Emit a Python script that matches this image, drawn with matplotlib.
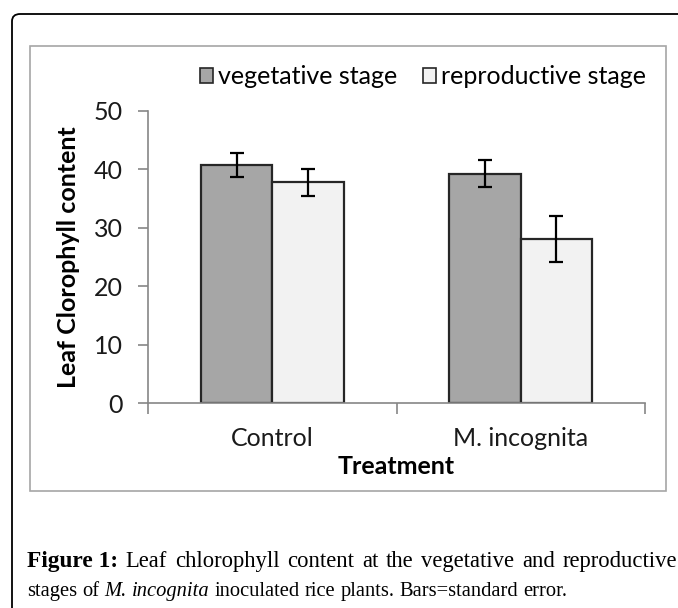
import matplotlib
matplotlib.use("Agg")
import matplotlib.pyplot as plt
from matplotlib.patches import Rectangle, FancyBboxPatch, Patch
import numpy as np

categories = ["Control", "M. incognita"]
series_names = ["vegetative stage", "reproductive stage"]
vegetative = [40.7, 39.2]
vegetative_err = [2.1, 2.3]
reproductive = [37.8, 28.1]
reproductive_err = [2.3, 3.9]
y_ticks = [0, 10, 20, 30, 40, 50]

W, H = 678, 608
fig = plt.figure(figsize=(W / 100, H / 100), dpi=100)
plt.rcParams['font.family'] = ['Lato', 'DejaVu Sans']
FS = 18

# outer rounded frame
outer = FancyBboxPatch((12 / W, -0.05), 1.2, 1 - 14 / H + 0.05,
                       boxstyle="round,pad=0,rounding_size=0.012",
                       transform=fig.transFigure, fill=False, edgecolor="black",
                       linewidth=1.3, clip_on=False)
fig.patches.append(outer)
# inner chart frame
inner = Rectangle((30 / W, 1 - 491 / H), (666 - 30) / W, (491 - 46) / H,
                  transform=fig.transFigure, fill=False, edgecolor="#a6a6a6",
                  linewidth=1.2)
fig.patches.append(inner)

ax = fig.add_axes([148 / W, 1 - 403.3 / H, (645 - 148) / W, (403.3 - 110.7) / H])
x = np.arange(len(categories))
bw = 0.287
ekw = dict(ecolor="black", elinewidth=1.6, capsize=5, capthick=1.6)
ax.bar(x - bw / 2, vegetative, bw, yerr=vegetative_err, color="#a6a6a6",
       edgecolor="#262626", linewidth=1.6, error_kw=ekw, label=series_names[0], zorder=2)
ax.bar(x + bw / 2, reproductive, bw, yerr=reproductive_err, color="#f2f2f2",
       edgecolor="#262626", linewidth=1.6, error_kw=ekw, label=series_names[1], zorder=2)

ax.set_xlim(-0.5, 1.5)
ax.set_ylim(0, 50)
for s in ["top", "right"]:
    ax.spines[s].set_visible(False)
for s in ["left", "bottom"]:
    ax.spines[s].set_color("#868686")
    ax.spines[s].set_linewidth(1.2)
ax.set_yticks(y_ticks)
ax.set_yticklabels([str(v) for v in y_ticks])
ax.tick_params(axis="y", direction="out", length=7, width=1.2, color="#868686",
               labelsize=FS, pad=11, labelcolor="#1a1a1a")
ax.set_xticks(x)
ax.set_xticklabels(categories)
ax.tick_params(axis="x", length=0, labelsize=FS, pad=17, labelcolor="#1a1a1a")
ax.set_xticks([-0.5, 0.5, 1.5], minor=True)
ax.tick_params(axis="x", which="minor", direction="out", length=8, width=1.2,
               color="#868686")
ax.set_xlabel("Treatment", fontsize=FS, fontweight="bold", labelpad=4)
ax.set_ylabel("Leaf Clorophyll content", fontsize=FS, fontweight="bold", labelpad=10)
ax.patch.set_alpha(0)

handles = [Patch(facecolor="#a6a6a6", edgecolor="#262626", linewidth=1.2),
           Patch(facecolor="#f2f2f2", edgecolor="#262626", linewidth=1.2)]
fig.legend(handles, series_names, loc="center", bbox_to_anchor=(423 / W, 1 - 77 / H),
           ncol=2, frameon=False, fontsize=FS, handlelength=0.55, handleheight=0.55,
           handletextpad=0.2, columnspacing=1.0, borderaxespad=0, borderpad=0)

# caption
fig.canvas.draw()
renderer = fig.canvas.get_renderer()
serif = ['Liberation Serif', 'DejaVu Serif']
CFS = 14.8

def width_of(txt, kw):
    kw = dict(kw)
    fs = kw.pop("fontsize", CFS)
    t = fig.text(0, 0, txt, family=serif, fontsize=fs, **kw)
    w = t.get_window_extent(renderer).width
    t.remove()
    return w

def line(words, x0, y0, x1=None):
    # words: list of (text, kwargs); justified if x1 given
    widths = [width_of(w, kw) for w, kw in words]
    space = width_of("a a", {}) - 2 * width_of("a", {})
    if x1 is not None and len(words) > 1:
        space = (x1 - x0 - sum(widths)) / (len(words) - 1)
    xp = x0
    for (w, kw), wd in zip(words, widths):
        kw = dict(kw)
        fs = kw.pop("fontsize", CFS)
        fig.text(xp / W, 1 - y0 / H, w, family=serif, fontsize=fs, va="baseline", **kw)
        xp += wd + space

bold = dict(fontweight="bold", fontsize=16.8)
ital = dict(style="italic")
line1 = [("Figure 1:", bold)] + [(w, dict(fontsize=16.3)) for w in
         "Leaf chlorophyll content at the vegetative and reproductive".split()]
line2 = [("stages", {}), ("of", {}), ("M.", ital), ("incognita", ital)] + [(w, {}) for w in
         "inoculated rice plants. Bars=standard error.".split()]
line(line1, 27, 567, 677)
line(line2, 27, 596)

fig.savefig("out.png", dpi=100)
